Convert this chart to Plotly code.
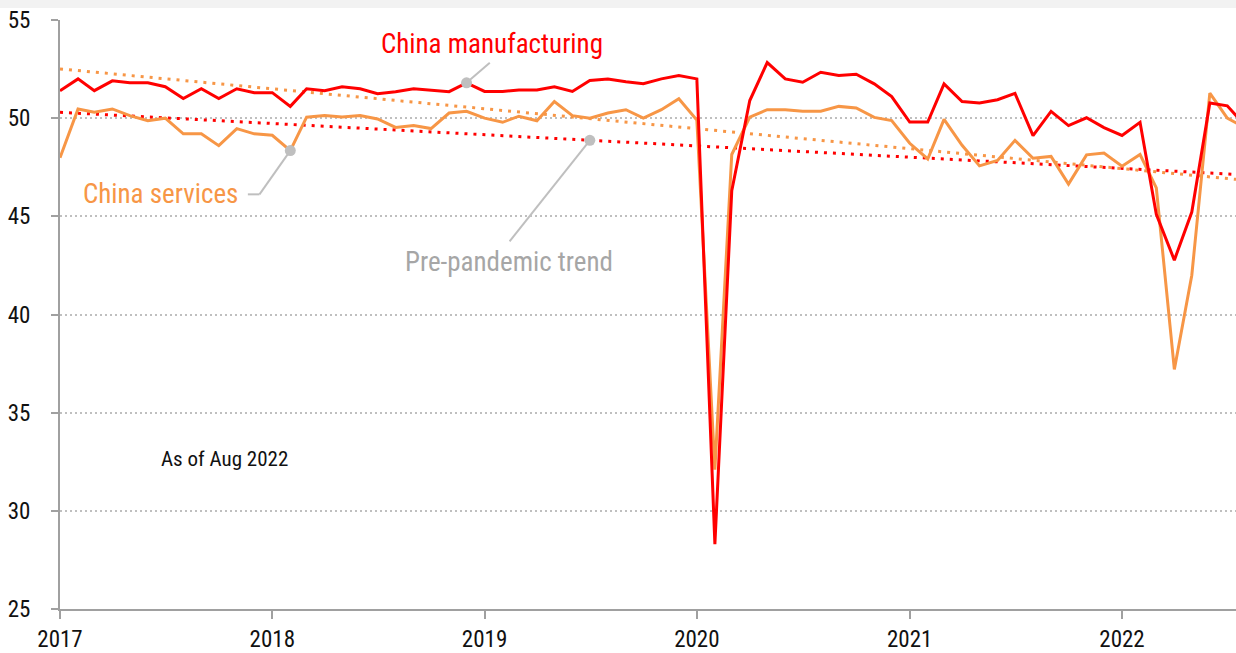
import plotly.graph_objects as go
import pandas as pd
import numpy as np

# ---- data ----
dates = pd.date_range("2017-01-01", "2022-08-01", freq="MS")

manufacturing = [
    51.4, 52.0, 51.4, 51.9, 51.8, 51.8, 51.6, 51.0, 51.5, 51.0, 51.5, 51.3,
    51.3, 50.6, 51.5, 51.4, 51.6, 51.5, 51.25, 51.35, 51.5, 51.43, 51.35, 51.8,
    51.36, 51.36, 51.43, 51.43, 51.6, 51.36, 51.92, 52.0, 51.85, 51.75, 52.0, 52.17,
    52.0, 28.3, 46.3, 50.9, 52.83, 52.0, 51.83, 52.34, 52.17, 52.24, 51.75, 51.1,
    49.8, 49.8, 51.75, 50.85, 50.77, 50.94, 51.26, 49.11, 50.35, 49.62, 50.02, 49.52,
    49.12, 49.79, 45.1, 42.77, 45.22, 50.77, 50.63, 49.6,
]

services = [
    47.98, 50.47, 50.3, 50.47, 50.13, 49.87, 50.0, 49.2, 49.2, 48.6, 49.47, 49.2,
    49.13, 48.35, 50.05, 50.13, 50.06, 50.13, 49.96, 49.53, 49.62, 49.47, 50.26, 50.35,
    50.0, 49.79, 50.1, 49.87, 50.85, 50.13, 50.0, 50.26, 50.43, 50.0, 50.43, 50.99,
    49.9, 32.1, 48.15, 50.05, 50.43, 50.43, 50.35, 50.35, 50.6, 50.52, 50.04, 49.88,
    48.72, 47.92, 49.94, 48.62, 47.57, 47.85, 48.87, 47.96, 48.05, 46.64, 48.13, 48.22,
    47.55, 48.15, 46.45, 37.2, 42.0, 51.28, 50.0, 49.5,
]

trend_dates = ["2017-01-01", "2022-08-01"]
manufacturing_trend = [50.3, 47.11]
services_trend = [52.51, 46.84]

y_ticks = [25, 30, 35, 40, 45, 50, 55]

RED = "#ff0000"
ORANGE = "#f79646"
GREY = "#bfbfbf"
FONT = "Liberation Sans Narrow, Roboto Condensed, Arial Narrow, Roboto, sans-serif"

fig = go.Figure()

fig.add_trace(go.Scatter(x=trend_dates, y=services_trend, mode="lines",
                         line=dict(color=ORANGE, width=3, dash="3px,6px"),
                         hoverinfo="skip", showlegend=False))
fig.add_trace(go.Scatter(x=trend_dates, y=manufacturing_trend, mode="lines",
                         line=dict(color=RED, width=3, dash="3px,6px"),
                         hoverinfo="skip", showlegend=False))
fig.add_trace(go.Scatter(x=dates, y=services, mode="lines", name="China services",
                         line=dict(color=ORANGE, width=3), showlegend=False))
fig.add_trace(go.Scatter(x=dates, y=manufacturing, mode="lines", name="China manufacturing",
                         line=dict(color=RED, width=3), showlegend=False))

# annotation anchor dots (on data points / trend)
i_mfg = list(dates).index(pd.Timestamp("2018-12-01"))
i_svc = list(dates).index(pd.Timestamp("2018-02-01"))
trend_x = pd.Timestamp("2019-07-01")
t0 = pd.Timestamp(trend_dates[0]).value
t1 = pd.Timestamp(trend_dates[1]).value
trend_y = float(np.interp(trend_x.value, [t0, t1], manufacturing_trend))

# connector lines
line_style = dict(color=GREY, width=2)
fig.add_shape(type="line", x0=dates[i_mfg], y0=manufacturing[i_mfg],
              x1="2019-01-10", y1=52.82, line=line_style, layer="below")
fig.add_shape(type="line", x0=dates[i_svc], y0=services[i_svc],
              x1="2017-12-10", y1=46.12, line=line_style, layer="below")
fig.add_shape(type="line", x0="2017-12-10", y0=46.12,
              x1="2017-11-20", y1=46.12, line=line_style, layer="below")
fig.add_shape(type="line", x0=trend_x, y0=trend_y,
              x1="2019-02-13", y1=43.73, line=line_style, layer="below")

fig.add_trace(go.Scatter(x=[dates[i_mfg], dates[i_svc], trend_x],
                         y=[manufacturing[i_mfg], services[i_svc], trend_y],
                         mode="markers", marker=dict(color=GREY, size=11),
                         hoverinfo="skip", showlegend=False))

fig.add_annotation(x="2019-01-13", y=53.78, text="China manufacturing", showarrow=False,
                   font=dict(family=FONT, size=27, color=RED), xanchor="center", yanchor="middle")
fig.add_annotation(x="2017-11-06", y=46.12, text="China services", showarrow=False,
                   font=dict(family=FONT, size=27, color=ORANGE), xanchor="right", yanchor="middle")
fig.add_annotation(x="2019-02-12", y=42.66, text="Pre-pandemic trend", showarrow=False,
                   font=dict(family=FONT, size=27, color="#a6a6a6"), xanchor="center", yanchor="middle")
fig.add_annotation(x="2017-10-11", y=32.66, text="As of Aug 2022", showarrow=False,
                   font=dict(family=FONT, size=21, color="#111111"), xanchor="center", yanchor="middle")

# light grey band at the very top
fig.add_shape(type="rect", xref="paper", yref="paper", x0=-0.06, x1=1.01,
              y0=1.0203, y1=1.04, fillcolor="#f2f2f2", line=dict(width=0), layer="below")

fig.update_layout(
    width=1236, height=653,
    margin=dict(l=60, r=0, t=20, b=42),
    paper_bgcolor="white", plot_bgcolor="white",
    font=dict(family=FONT, size=23, color="#111111"),
    showlegend=False,
    xaxis=dict(range=["2017-01-01", "2022-07-16"], dtick="M12", tick0="2017-01-01",
               tickformat="%Y", showgrid=False, showline=True, linecolor="#a0a0a0",
               linewidth=2, ticks="outside", ticklen=8, tickwidth=2, tickcolor="#a0a0a0",
               zeroline=False, tickfont=dict(size=23)),
    yaxis=dict(range=[25, 55], tickvals=y_ticks, showgrid=True, gridcolor=GREY,
               griddash="2px,3px", gridwidth=1.5, showline=True, linecolor="#a0a0a0",
               linewidth=2, ticks="outside", ticklen=7, tickwidth=2, tickcolor="#a0a0a0",
               zeroline=False, tickfont=dict(size=23), ticklabelstandoff=16),
)

fig.write_html("out.html", config={"displayModeBar": False},
               post_script="document.body.style.margin='0';document.body.style.overflow='hidden';")
